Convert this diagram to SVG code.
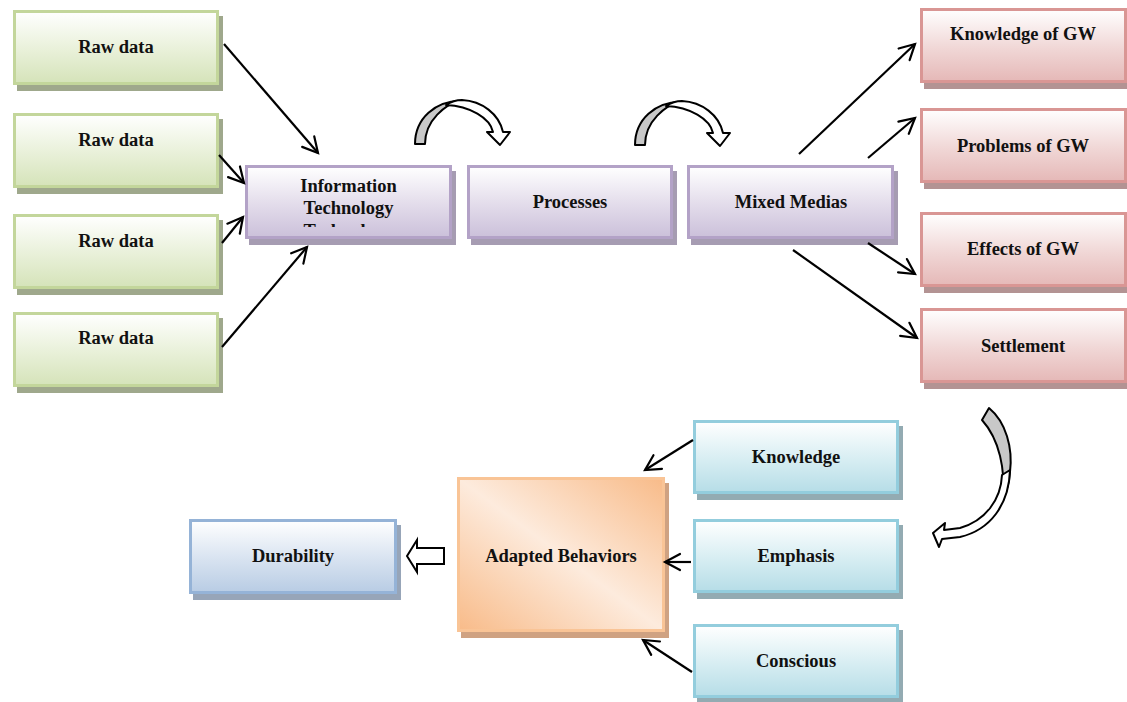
<svg xmlns="http://www.w3.org/2000/svg" width="1127" height="702" viewBox="0 0 1127 702">
<defs>
<linearGradient id="gGreen" x1="0" y1="0" x2="0" y2="1"><stop offset="0" stop-color="#ffffff"/><stop offset="0.55" stop-color="#e8f0d8"/><stop offset="1" stop-color="#d5e3b9"/></linearGradient>
<linearGradient id="gPurple" x1="0" y1="0" x2="0" y2="1"><stop offset="0" stop-color="#ffffff"/><stop offset="0.55" stop-color="#e2dbea"/><stop offset="1" stop-color="#cbc0da"/></linearGradient>
<linearGradient id="gRed" x1="0" y1="0" x2="0" y2="1"><stop offset="0" stop-color="#ffffff"/><stop offset="0.55" stop-color="#f0d6d5"/><stop offset="1" stop-color="#e5b8b7"/></linearGradient>
<linearGradient id="gTeal" x1="0" y1="0" x2="0" y2="1"><stop offset="0" stop-color="#ffffff"/><stop offset="0.55" stop-color="#d6edf2"/><stop offset="1" stop-color="#b6dde7"/></linearGradient>
<linearGradient id="gBlue" x1="0" y1="0" x2="0" y2="1"><stop offset="0" stop-color="#ffffff"/><stop offset="0.55" stop-color="#d7e2f0"/><stop offset="1" stop-color="#b8cce4"/></linearGradient>
<linearGradient id="gOrange" x1="1" y1="0" x2="0" y2="1"><stop offset="0" stop-color="#f8bb89"/><stop offset="0.5" stop-color="#fdebdd"/><stop offset="1" stop-color="#f8bb89"/></linearGradient>
<marker id="arr" viewBox="-17 -10 20 20" refX="0" refY="0" markerWidth="20" markerHeight="20" markerUnits="userSpaceOnUse" orient="auto" overflow="visible">
<path d="M-15,-8 L0,0 L-15,8" fill="none" stroke="#000" stroke-width="2.2" stroke-linecap="round" stroke-linejoin="miter"/>
</marker>
<clipPath id="itClip"><rect x="247" y="167" width="203" height="60"/></clipPath>
</defs>
<style>
.lbl{font-family:"Liberation Serif","Times New Roman",serif;font-weight:bold;font-size:18.5px;fill:#111;text-anchor:middle}
.green .s{fill:#9fa88c}.green .b{fill:url(#gGreen);stroke:#c3d69b;stroke-width:3}
.purple .s{fill:#a69cb2}.purple .b{fill:url(#gPurple);stroke:#b3a2c7;stroke-width:3}
.red .s{fill:#b39393}.red .b{fill:url(#gRed);stroke:#d99694;stroke-width:3}
.teal .s{fill:#93abb2}.teal .b{fill:url(#gTeal);stroke:#93cddd;stroke-width:3}
.blue .s{fill:#97a5b8}.blue .b{fill:url(#gBlue);stroke:#95b3d7;stroke-width:3}
.orange .s{fill:#cfa282}.orange .b{fill:url(#gOrange);stroke:#f9c496;stroke-width:3}
.conn line{stroke:#000;stroke-width:2.2;marker-end:url(#arr)}
.back{fill:#c8c8c8;stroke:#000;stroke-width:2;stroke-linejoin:round}
.front{fill:#fff;stroke:#000;stroke-width:2;stroke-linejoin:round}
</style>

<g id="raw1" class="green"><rect class="s" x="17" y="16" width="206" height="75"/><rect class="b" x="14.5" y="11.5" width="203" height="72"/><text class="lbl" x="116" y="53">Raw data</text></g>
<g id="raw2" class="green"><rect class="s" x="17" y="119" width="206" height="75"/><rect class="b" x="14.5" y="114.5" width="203" height="72"/><text class="lbl" x="116" y="146">Raw data</text></g>
<g id="raw3" class="green"><rect class="s" x="17" y="220" width="206" height="75"/><rect class="b" x="14.5" y="215.5" width="203" height="72"/><text class="lbl" x="116" y="247">Raw data</text></g>
<g id="raw4" class="green"><rect class="s" x="17" y="318" width="206" height="75"/><rect class="b" x="14.5" y="313.5" width="203" height="72"/><text class="lbl" x="116" y="344">Raw data</text></g>

<g id="it" class="purple"><rect class="s" x="249" y="171" width="207" height="74"/><rect class="b" x="246.5" y="166.5" width="204" height="71"/>
<text class="lbl" x="348.5" y="192">Information</text><text class="lbl" x="348.5" y="214">Technology</text>
<text class="lbl" x="348.5" y="237" clip-path="url(#itClip)">Technology</text></g>
<g id="processes" class="purple"><rect class="s" x="471" y="171" width="206" height="74"/><rect class="b" x="468.5" y="166.5" width="203" height="71"/><text class="lbl" x="570" y="208">Processes</text></g>
<g id="mixed" class="purple"><rect class="s" x="691" y="171" width="207" height="74"/><rect class="b" x="688.5" y="166.5" width="204" height="71"/><text class="lbl" x="791" y="208">Mixed Medias</text></g>

<g id="kgw" class="red"><rect class="s" x="924" y="14" width="207" height="75"/><rect class="b" x="921.5" y="9.5" width="204" height="72"/><text class="lbl" x="1023" y="40">Knowledge of GW</text></g>
<g id="pgw" class="red"><rect class="s" x="924" y="114" width="207" height="75"/><rect class="b" x="921.5" y="109.5" width="204" height="72"/><text class="lbl" x="1023" y="152">Problems of GW</text></g>
<g id="egw" class="red"><rect class="s" x="924" y="218" width="207" height="75"/><rect class="b" x="921.5" y="213.5" width="204" height="72"/><text class="lbl" x="1023" y="255">Effects of GW</text></g>
<g id="settlement" class="red"><rect class="s" x="924" y="314" width="207" height="75"/><rect class="b" x="921.5" y="309.5" width="204" height="72"/><text class="lbl" x="1023" y="352">Settlement</text></g>

<g id="knowledge" class="teal"><rect class="s" x="697" y="426" width="206" height="74"/><rect class="b" x="694.5" y="421.5" width="203" height="71"/><text class="lbl" x="796" y="463">Knowledge</text></g>
<g id="emphasis" class="teal"><rect class="s" x="697" y="525" width="206" height="74"/><rect class="b" x="694.5" y="520.5" width="203" height="71"/><text class="lbl" x="796" y="562">Emphasis</text></g>
<g id="conscious" class="teal"><rect class="s" x="697" y="630" width="206" height="72"/><rect class="b" x="694.5" y="625.5" width="203" height="71"/><text class="lbl" x="796" y="667">Conscious</text></g>

<g id="adapted" class="orange"><rect class="s" x="461" y="483" width="208" height="155"/><rect class="b" x="458.5" y="478.5" width="205" height="152"/><text class="lbl" x="561" y="562">Adapted Behaviors</text></g>
<g id="durability" class="blue"><rect class="s" x="193" y="525" width="208" height="75"/><rect class="b" x="190.5" y="520.5" width="205" height="72"/><text class="lbl" x="293" y="562">Durability</text></g>

<g id="connectors">
<g class="conn">
<line x1="224" y1="44" x2="318" y2="153"/>
<line x1="219" y1="155" x2="244" y2="183"/>
<line x1="222" y1="243" x2="243" y2="217"/>
<line x1="222" y1="347" x2="307" y2="247"/>
<line x1="799" y1="154" x2="915" y2="44"/>
<line x1="868" y1="158" x2="915" y2="118"/>
<line x1="868" y1="243" x2="915" y2="274"/>
<line x1="793" y1="250" x2="917" y2="338"/>
<line x1="693" y1="440" x2="645" y2="470"/>
<line x1="691" y1="562" x2="665" y2="562"/>
<line x1="692" y1="672" x2="643" y2="640"/>
</g>
<path id="blockLeft" d="M407,556 L417,540 L417,548 L444,548 L444,564 L417,564 L417,572 Z" fill="#fff" stroke="#000" stroke-width="2" stroke-linejoin="miter"/>
<g id="curve1">
<path class="back" d="M415,144 C415,118 436,101 460,101 C446,104 425,120 425,144 Z"/>
<path class="front" d="M446,105 C452,101 457,100 462,100 C482,101 499,114 503,132 L510,132 L500,145 L487,132 L493,132 C490,118 470,106 446,105 Z"/>
</g>
<g id="curve2" transform="translate(220,1)">
<path class="back" d="M415,144 C415,118 436,101 460,101 C446,104 425,120 425,144 Z"/>
<path class="front" d="M446,105 C452,101 457,100 462,100 C482,101 499,114 503,132 L510,132 L500,145 L487,132 L493,132 C490,118 470,106 446,105 Z"/>
</g>
<g id="curve3">
<path class="back" d="M982,420 L989,408 C1006,422 1013,448 1010,472 C1009,485 1006,493 1003,497 C1005,470 1000,440 982,420 Z"/>
<path class="front" d="M1010,470 C1009,505 990,530 960,537 L942,539 L939,547 L933,533 L945,523 L944,530 L960,528 C985,521 1001,500 1002,475 Z"/>
</g>
</g>
</svg>
